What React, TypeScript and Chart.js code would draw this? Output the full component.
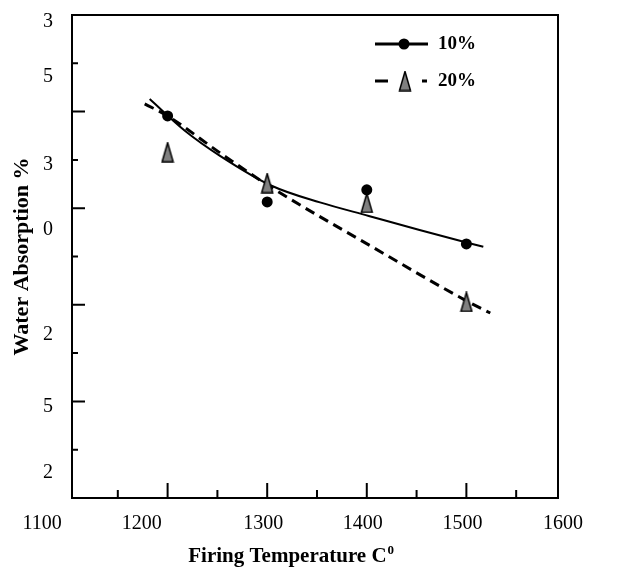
import React, { useEffect, useRef } from 'react';
import { Chart, registerables } from 'chart.js';

Chart.register(...registerables);

// ---- data ----
const temperatures = [1200, 1300, 1400, 1500];
const absorption10 = [7.91, 6.13, 6.38, 5.26];
const absorption20 = [7.16, 6.52, 6.11, 4.06];

// trend curves
const fit10X = [1182, 1217, 1253, 1305, 1353, 1402, 1453, 1502, 1517];
const fit10Y = [8.26, 7.61, 7.08, 6.46, 6.12, 5.84, 5.55, 5.28, 5.2];
const fit20X = [1177, 1200, 1253, 1305, 1402, 1502, 1524];
const fit20Y = [8.16, 7.91, 7.14, 6.42, 5.24, 4.06, 3.83];

const seriesLabels = ['10%', '20%'];

const yTickLabels = ['3', '5', '3', '0', '2', '5', '2'];
const yTickValues = [9.86, 8.72, 6.89, 5.55, 3.37, 1.88, 0.52];
const xTickLabels = ['1100', '1200', '1300', '1400', '1500', '1600'];
const xTickValues = [1074, 1174, 1296, 1396, 1496, 1597];

const xMajorTicks = [1200, 1300, 1400, 1500];
const xMinorTicks = [1150, 1250, 1350, 1450, 1550];
const yMajorTicks = [2, 4, 6, 8];
const yMinorTicks = [1, 3, 5, 7, 9];

const X_MIN = 1104;
const X_MAX = 1592;
const Y_MIN = 0;
const Y_MAX = 10;

const xTitle = 'Firing Temperature C';
const xTitleSup = '0';
const yTitle = 'Water Absorption %';

const FONT = '"Liberation Serif", "Times New Roman", serif';

function makeTriangle(): HTMLCanvasElement {
  const c = document.createElement('canvas');
  c.width = 14;
  c.height = 21;
  const g = c.getContext('2d')!;
  g.beginPath();
  g.moveTo(7, 1);
  g.lineTo(12.5, 20);
  g.lineTo(1.5, 20);
  g.closePath();
  g.fillStyle = '#808080';
  g.fill();
  g.lineWidth = 1.5;
  g.strokeStyle = '#000';
  g.stroke();
  return c;
}

export default function App() {
  const ref = useRef<HTMLCanvasElement | null>(null);

  useEffect(() => {
    document.body.style.margin = '0';
    const canvas = ref.current;
    if (!canvas) return;
    const tri = makeTriangle();

    const axisPlugin = {
      id: 'frameTicks',
      afterDatasetsDraw(chart: any) {
        const { ctx, chartArea } = chart;
        const xs = chart.scales.x;
        const ys = chart.scales.y;
        ctx.save();
        ctx.strokeStyle = '#000';
        ctx.lineWidth = 2;
        ctx.beginPath();
        const tick = (x1: number, y1: number, x2: number, y2: number) => {
          ctx.moveTo(x1, y1);
          ctx.lineTo(x2, y2);
        };
        xMajorTicks.forEach((v) => {
          const p = xs.getPixelForValue(v);
          tick(p, chartArea.bottom, p, chartArea.bottom - 15);
        });
        xMinorTicks.forEach((v) => {
          const p = xs.getPixelForValue(v);
          tick(p, chartArea.bottom, p, chartArea.bottom - 8);
        });
        yMajorTicks.forEach((v) => {
          const p = ys.getPixelForValue(v);
          tick(chartArea.left, p, chartArea.left + 13, p);
        });
        yMinorTicks.forEach((v) => {
          const p = ys.getPixelForValue(v);
          tick(chartArea.left, p, chartArea.left + 6, p);
        });
        ctx.stroke();
        ctx.strokeRect(
          chartArea.left,
          chartArea.top,
          chartArea.right - chartArea.left,
          chartArea.bottom - chartArea.top
        );

        // x axis title with superscript
        ctx.fillStyle = '#000';
        ctx.font = `bold 21px ${FONT}`;
        ctx.textBaseline = 'middle';
        ctx.textAlign = 'left';
        const mainW = ctx.measureText(xTitle).width;
        ctx.font = `bold 13px ${FONT}`;
        const supW = ctx.measureText(xTitleSup).width;
        const cx = chartArea.left + (chartArea.right - chartArea.left) * 0.45;
        const tx = cx - (mainW + supW) / 2;
        const ty = chartArea.bottom + 59;
        ctx.font = `bold 21px ${FONT}`;
        ctx.fillText(xTitle, tx, ty);
        ctx.font = `bold 13px ${FONT}`;
        ctx.fillText(xTitleSup, tx + mainW + 1, ty - 6);

        // legend
        const lx = chartArea.right - 183;
        const ly1 = chartArea.top + 29;
        const ly2 = chartArea.top + 66;
        ctx.lineWidth = 3;
        ctx.beginPath();
        ctx.moveTo(lx, ly1);
        ctx.lineTo(lx + 53, ly1);
        ctx.stroke();
        ctx.beginPath();
        ctx.arc(lx + 29, ly1, 5.5, 0, Math.PI * 2);
        ctx.fillStyle = '#000';
        ctx.fill();
        ctx.setLineDash([13, 34, 5, 100]);
        ctx.beginPath();
        ctx.moveTo(lx, ly2);
        ctx.lineTo(lx + 53, ly2);
        ctx.stroke();
        ctx.setLineDash([]);
        ctx.drawImage(tri, lx + 30 - tri.width / 2, ly2 - tri.height / 2);
        ctx.fillStyle = '#000';
        ctx.font = `bold 19px ${FONT}`;
        ctx.textBaseline = 'middle';
        ctx.textAlign = 'left';
        ctx.fillText(seriesLabels[0], lx + 63, ly1);
        ctx.fillText(seriesLabels[1], lx + 63, ly2);
        ctx.restore();
      },
    };

    const chart = new Chart(canvas, {
      type: 'scatter',
      data: {
        datasets: [
          {
            label: seriesLabels[0],
            data: temperatures.map((t, i) => ({ x: t, y: absorption10[i] })),
            pointStyle: 'circle',
            pointRadius: 5.5,
            pointBackgroundColor: '#000',
            pointBorderWidth: 0,
            showLine: false,
            order: 0,
          },
          {
            label: seriesLabels[1],
            data: temperatures.map((t, i) => ({ x: t, y: absorption20[i] })),
            pointStyle: tri,
            pointRadius: 7,
            showLine: false,
            order: 0,
          },
          {
            label: seriesLabels[0] + ' fit',
            data: fit10X.map((x, i) => ({ x, y: fit10Y[i] })),
            showLine: true,
            borderColor: '#000',
            borderWidth: 2,
            pointRadius: 0,
            cubicInterpolationMode: 'monotone',
            order: 1,
          },
          {
            label: seriesLabels[1] + ' fit',
            data: fit20X.map((x, i) => ({ x, y: fit20Y[i] })),
            showLine: true,
            borderColor: '#000',
            borderWidth: 3,
            borderDash: [10, 6],
            pointRadius: 0,
            cubicInterpolationMode: 'monotone',
            order: 1,
          },
        ],
      },
      options: {
        responsive: false,
        animation: false,
        events: [],
        layout: { padding: { top: 15, right: 60, left: 0, bottom: 0 } },
        plugins: {
          legend: { display: false },
          tooltip: { enabled: false },
        },
        scales: {
          x: {
            type: 'linear',
            min: X_MIN,
            max: X_MAX,
            grid: { display: false, drawTicks: false },
            border: { display: false },
            ticks: {
              autoSkip: false,
              maxRotation: 0,
              padding: 14,
              color: '#000',
              font: { family: FONT, size: 20 },
              callback: (_v: any, i: number) => xTickLabels[i],
            },
            afterBuildTicks: (s: any) => {
              s.ticks = xTickValues.map((v) => ({ value: v }));
            },
            afterFit: (s: any) => {
              s.height = 72;
              s.paddingLeft = 0;
              s.paddingRight = 0;
            },
          },
          y: {
            type: 'linear',
            min: Y_MIN,
            max: Y_MAX,
            grid: { display: false, drawTicks: false },
            border: { display: false },
            ticks: {
              autoSkip: false,
              padding: 19,
              color: '#000',
              font: { family: FONT, size: 20 },
              callback: (_v: any, i: number) => yTickLabels[i],
            },
            afterBuildTicks: (s: any) => {
              s.ticks = yTickValues.map((v) => ({ value: v }));
            },
            afterFit: (s: any) => {
              s.width = 72;
              s.paddingTop = 0;
              s.paddingBottom = 0;
            },
            title: {
              display: true,
              text: yTitle,
              color: '#000',
              font: { family: FONT, size: 22, weight: 'bold' },
              padding: { top: 9, bottom: 0 },
            },
          },
        },
      },
      plugins: [axisPlugin],
    } as any);

    return () => chart.destroy();
  }, []);

  return (
    <div style={{ width: 618, height: 570 }}>
      <canvas ref={ref} width={618} height={570} />
    </div>
  );
}
